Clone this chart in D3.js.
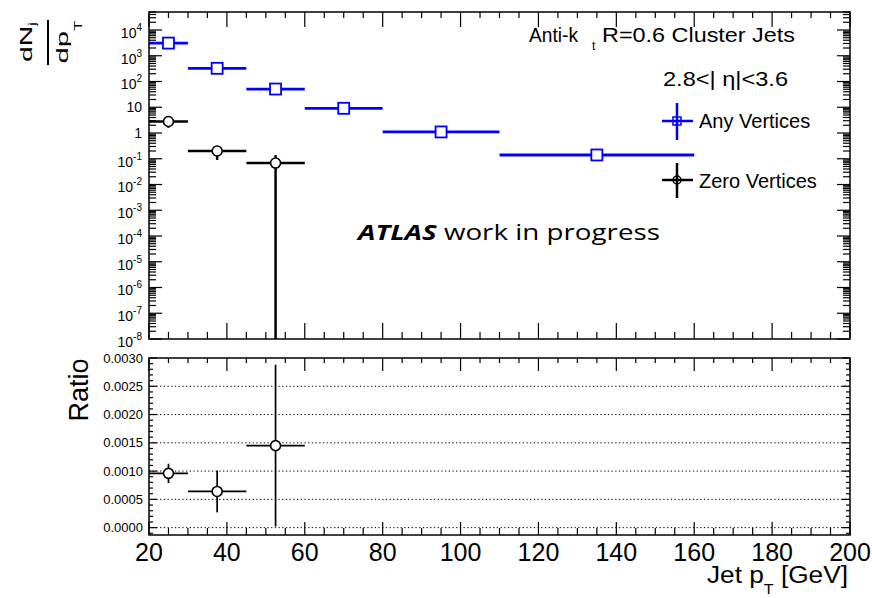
<!DOCTYPE html>
<html>
<head>
<meta charset="utf-8">
<script src="https://cdn.jsdelivr.net/npm/d3@7"></script>
<style>
  body { margin: 0; background: #fff; }
  svg { display: block; }
  text { font-family: "Liberation Sans", Arial, Helvetica, sans-serif; fill: #000; }
</style>
</head>
<body>
<svg id="chart" width="872" height="598"></svg>
<script>
// Jet pT bins
const binLow    = [20, 30, 45, 60, 80, 110];
const binHigh   = [30, 45, 60, 80, 110, 160];
const binCenter = [25, 37.5, 52.5, 70, 95, 135];

// dN/dpT for jets with any number of vertices
const anyVertices    = [3100, 325, 51, 9.1, 1.1, 0.14];
const anyVerticesErr = [60, 12, 3, 0.6, 0.1, 0.015];

// dN/dpT for jets in events with zero vertices (first three bins)
const zeroVertices    = [2.8, 0.20, 0.068];
const zeroVerticesErr = [1.2, 0.11, 0.07];

// zero / any ratio
const ratio    = [0.00096, 0.00064, 0.00145];
const ratioErr = [0.00017, 0.00037, 0.00143];

// axis ticks
const xTickLabels   = [20, 40, 60, 80, 100, 120, 140, 160, 180, 200];
const logExponents  = [-8, -7, -6, -5, -4, -3, -2, -1, 0, 1, 2, 3, 4];
const ratioTicks    = [0, 0.0005, 0.0010, 0.0015, 0.0020, 0.0025, 0.0030];

const svg = d3.select("#chart");
const L = 149, R = 850;
const top1 = 12, bot1 = 339;     // spectrum panel
const top2 = 358, bot2 = 535;    // ratio panel

const x  = d3.scaleLinear().domain([20, 200]).range([L, R]);
const y1 = d3.scaleLog().domain([1e-8, 5e4]).range([bot1, top1]);
const y2 = d3.scaleLinear().domain([-0.00013, 0.0030]).range([bot2, top2]);

const BLUE = "#0000ff";

// clip regions
const defs = svg.append("defs");
defs.append("clipPath").attr("id", "clip1").append("rect")
  .attr("x", L).attr("y", top1).attr("width", R - L).attr("height", bot1 - top1);
defs.append("clipPath").attr("id", "clip2").append("rect")
  .attr("x", L).attr("y", top2).attr("width", R - L).attr("height", bot2 - top2);

// ---------- tick helpers ----------
function xTicks(g, yPos, dir, majLen, minLen) {
  const vals = d3.range(20, 200.01, 5);
  g.selectAll(null).data(vals).enter().append("line")
    .attr("x1", d => x(d)).attr("x2", d => x(d))
    .attr("y1", yPos)
    .attr("y2", d => yPos + dir * (d % 20 === 0 ? majLen : minLen))
    .attr("stroke", "#000").attr("stroke-width", 1.2);
}

function logTicks(g, xPos, dir, majLen, minLen) {
  const vals = [];
  for (let e = -8; e <= 4; e++) {
    for (let m = 1; m <= 9; m++) {
      const v = m * Math.pow(10, e);
      if (v <= 5e4) vals.push({ v, major: m === 1 });
    }
  }
  g.selectAll(null).data(vals).enter().append("line")
    .attr("y1", d => y1(d.v)).attr("y2", d => y1(d.v))
    .attr("x1", xPos)
    .attr("x2", d => xPos + dir * (d.major ? majLen : minLen))
    .attr("stroke", "#000").attr("stroke-width", 1.2);
}

function ratioYTicks(g, xPos, dir, majLen, minLen) {
  const vals = d3.range(0, 30.5, 1).map(i => i * 0.0001);
  vals.unshift(-0.0001);
  g.selectAll(null).data(vals).enter().append("line")
    .attr("y1", d => y2(d)).attr("y2", d => y2(d))
    .attr("x1", xPos)
    .attr("x2", d => xPos + dir * (Math.round(d * 10000) % 5 === 0 ? majLen : minLen))
    .attr("stroke", "#000").attr("stroke-width", 1.2);
}

// ---------- spectrum panel ----------
const p1 = svg.append("g");

// frame ticks
xTicks(p1, top1, 1, 15, 6);
xTicks(p1, bot1, -1, 16, 7);
logTicks(p1, L, 1, 13, 7);
logTicks(p1, R, -1, 13, 7);

// y tick labels 10^n
const ylab = p1.selectAll(null).data(logExponents).enter().append("text")
  .attr("text-anchor", "end")
  .attr("x", 142)
  .attr("y", d => y1(Math.pow(10, d)) + (d === 0 || d === 1 ? 5 : 8))
  .style("font-size", "14px");
ylab.each(function(d) {
  const t = d3.select(this);
  if (d === 0) { t.text("1"); return; }
  if (d === 1) { t.text("10"); return; }
  t.append("tspan").text("10");
  t.append("tspan").attr("dy", -7).style("font-size", "10px").text(String(d));
});

// data
const d1 = p1.append("g").attr("clip-path", "url(#clip1)");

// any vertices: horizontal bin-width bars and vertical errors
d1.selectAll(null).data(anyVertices).enter().append("line")
  .attr("x1", (d, i) => x(binLow[i])).attr("x2", (d, i) => x(binHigh[i]))
  .attr("y1", d => y1(d)).attr("y2", d => y1(d))
  .attr("stroke", BLUE).attr("stroke-width", 2.8);
d1.selectAll(null).data(anyVertices).enter().append("line")
  .attr("x1", (d, i) => x(binCenter[i])).attr("x2", (d, i) => x(binCenter[i]))
  .attr("y1", (d, i) => y1(d + anyVerticesErr[i]))
  .attr("y2", (d, i) => y1(Math.max(d - anyVerticesErr[i], 1e-9)))
  .attr("stroke", BLUE).attr("stroke-width", 2.8);

// zero vertices
d1.selectAll(null).data(zeroVertices).enter().append("line")
  .attr("x1", (d, i) => x(binLow[i])).attr("x2", (d, i) => x(binHigh[i]))
  .attr("y1", d => y1(d)).attr("y2", d => y1(d))
  .attr("stroke", "#000").attr("stroke-width", 2.5);
d1.selectAll(null).data(zeroVertices).enter().append("line")
  .attr("x1", (d, i) => x(binCenter[i])).attr("x2", (d, i) => x(binCenter[i]))
  .attr("y1", (d, i) => y1(d + zeroVerticesErr[i]))
  .attr("y2", (d, i) => d - zeroVerticesErr[i] > 0 ? y1(d - zeroVerticesErr[i]) : bot1 + 2)
  .attr("stroke", "#000").attr("stroke-width", 2.5);

// markers
d1.selectAll(null).data(anyVertices).enter().append("rect")
  .attr("x", (d, i) => x(binCenter[i]) - 5.5).attr("y", d => y1(d) - 5.5)
  .attr("width", 11).attr("height", 11)
  .attr("fill", "#fff").attr("stroke", BLUE).attr("stroke-width", 1.8);
d1.selectAll(null).data(zeroVertices).enter().append("circle")
  .attr("cx", (d, i) => x(binCenter[i])).attr("cy", d => y1(d)).attr("r", 5)
  .attr("fill", "#fff").attr("stroke", "#000").attr("stroke-width", 1.6);

p1.append("rect").attr("x", L).attr("y", top1).attr("width", R - L).attr("height", bot1 - top1)
  .attr("fill", "none").attr("stroke", "#000").attr("stroke-width", 1.5);

// y-axis title dN_j / dp_T
const yt = svg.append("g");
const num = yt.append("text").attr("transform", "translate(32,42) rotate(-90)")
  .attr("text-anchor", "middle").style("font-size", "17px")
  .attr("textLength", 40).attr("lengthAdjust", "spacingAndGlyphs");
num.append("tspan").text("dN");
num.append("tspan").attr("dy", 4).style("font-size", "10px").text("j");
yt.append("line").attr("x1", 48).attr("x2", 48).attr("y1", 20).attr("y2", 65)
  .attr("stroke", "#000").attr("stroke-width", 2);
const den = yt.append("text").attr("transform", "translate(68,42) rotate(-90)")
  .attr("text-anchor", "middle").style("font-size", "17px")
  .attr("textLength", 43).attr("lengthAdjust", "spacingAndGlyphs");
den.append("tspan").text("dp");
den.append("tspan").attr("dy", 14).style("font-size", "10px").text("T");

// annotations
const ann = svg.append("g");
ann.append("text").attr("x", 529).attr("y", 42).style("font-size", "21px")
  .attr("textLength", 49).attr("lengthAdjust", "spacingAndGlyphs").text("Anti-k");
ann.append("text").attr("x", 592).attr("y", 50).style("font-size", "12px").text("t");
ann.append("text").attr("x", 602).attr("y", 42).style("font-size", "21px")
  .attr("textLength", 193).attr("lengthAdjust", "spacingAndGlyphs").text("R=0.6 Cluster Jets");

ann.append("text").attr("x", 663).attr("y", 86).style("font-size", "21px")
  .attr("textLength", 125).attr("lengthAdjust", "spacingAndGlyphs").text("2.8<| \u03b7|<3.6");

// legend
const lg = svg.append("g");
lg.append("line").attr("x1", 662).attr("x2", 693).attr("y1", 121).attr("y2", 121).attr("stroke", BLUE).attr("stroke-width", 2.5);
lg.append("line").attr("x1", 677).attr("x2", 677).attr("y1", 103).attr("y2", 140).attr("stroke", BLUE).attr("stroke-width", 2.5);
lg.append("rect").attr("x", 673).attr("y", 117).attr("width", 8).attr("height", 8)
  .attr("fill", "none").attr("stroke", BLUE).attr("stroke-width", 1.5);
lg.append("text").attr("x", 699).attr("y", 128).style("font-size", "20px").text("Any Vertices");

lg.append("line").attr("x1", 662).attr("x2", 693).attr("y1", 180).attr("y2", 180).attr("stroke", "#000").attr("stroke-width", 2.5);
lg.append("line").attr("x1", 677).attr("x2", 677).attr("y1", 163).attr("y2", 198).attr("stroke", "#000").attr("stroke-width", 2.5);
lg.append("circle").attr("cx", 677).attr("cy", 180).attr("r", 4)
  .attr("fill", "none").attr("stroke", "#000").attr("stroke-width", 1.5);
lg.append("text").attr("x", 699).attr("y", 188).style("font-size", "20px").text("Zero Vertices");

// ATLAS label
const at = svg.append("text").attr("x", 358).attr("y", 240)
  .style("font-family", "'Open Sans', Lato, sans-serif").style("font-size", "22px")
  .attr("textLength", 302).attr("lengthAdjust", "spacingAndGlyphs");
at.append("tspan").style("font-weight", "bold").style("font-style", "italic").text("ATLAS");
at.append("tspan").text(" work in progress");

// ---------- ratio panel ----------
const p2 = svg.append("g");

// dotted grid
p2.selectAll(null).data(ratioTicks.slice(0, -1)).enter().append("line")
  .attr("x1", L).attr("x2", R).attr("y1", d => y2(d)).attr("y2", d => y2(d))
  .attr("stroke", "#000").attr("stroke-width", 1).attr("stroke-dasharray", "1.3,2.4");

xTicks(p2, top2, 1, 13, 5);
xTicks(p2, bot2, -1, 13, 7);
ratioYTicks(p2, L, 1, 8, 4);
ratioYTicks(p2, R, -1, 8, 4);

p2.selectAll(null).data(ratioTicks).enter().append("text")
  .attr("text-anchor", "end").attr("x", 143).attr("y", d => y2(d) + 4.5)
  .style("font-size", "13px").text(d => d.toFixed(4));

const d2 = p2.append("g").attr("clip-path", "url(#clip2)");
d2.selectAll(null).data(ratio).enter().append("line")
  .attr("x1", (d, i) => x(binLow[i])).attr("x2", (d, i) => x(binHigh[i]))
  .attr("y1", d => y2(d)).attr("y2", d => y2(d))
  .attr("stroke", "#000").attr("stroke-width", 1.7);
d2.selectAll(null).data(ratio).enter().append("line")
  .attr("x1", (d, i) => x(binCenter[i])).attr("x2", (d, i) => x(binCenter[i]))
  .attr("y1", (d, i) => y2(d + ratioErr[i])).attr("y2", (d, i) => y2(d - ratioErr[i]))
  .attr("stroke", "#000").attr("stroke-width", 1.7);
d2.selectAll(null).data(ratio).enter().append("circle")
  .attr("cx", (d, i) => x(binCenter[i])).attr("cy", d => y2(d)).attr("r", 5)
  .attr("fill", "#fff").attr("stroke", "#000").attr("stroke-width", 1.6);

p2.append("rect").attr("x", L).attr("y", top2).attr("width", R - L).attr("height", bot2 - top2)
  .attr("fill", "none").attr("stroke", "#000").attr("stroke-width", 1.5);

// x tick labels
p2.selectAll(null).data(xTickLabels).enter().append("text")
  .attr("text-anchor", "middle").attr("x", d => x(d)).attr("y", 561)
  .style("font-size", "25px").text(d => d);

// x title
const xt = svg.append("text").attr("x", 848).attr("y", 583).attr("text-anchor", "end")
  .style("font-size", "23px").attr("textLength", 141).attr("lengthAdjust", "spacingAndGlyphs");
xt.append("tspan").text("Jet p");
xt.append("tspan").attr("dy", 11).style("font-size", "14px").text("T");
xt.append("tspan").attr("dy", -11).text(" [GeV]");

// ratio title
svg.append("text").attr("transform", "translate(88,390) rotate(-90)")
  .attr("text-anchor", "middle").style("font-size", "27px").text("Ratio");
</script>
</body>
</html>
